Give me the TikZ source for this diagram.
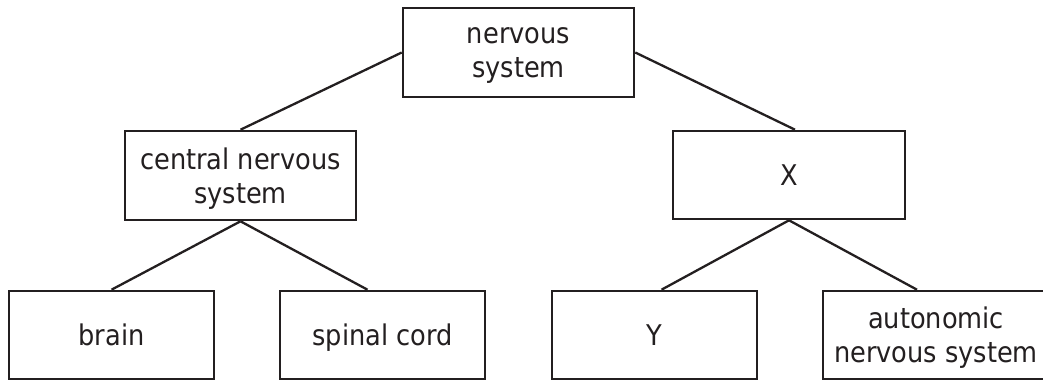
\documentclass[tikz,border=0pt]{standalone}
\usepackage{fontspec}
\setmainfont{DejaVu Sans Condensed}
\usepackage{tikz}

\definecolor{inkgray}{RGB}{35,31,32}

\begin{document}
\begin{tikzpicture}[x=1pt,y=-1pt]
	\tikzstyle{box}=[draw=inkgray,line width=2.6pt,inner sep=0pt,align=center,
		font=\fontsize{28.5}{34}\selectfont,text=inkgray,text depth=0pt,minimum height=88pt]
	\tikzstyle{link}=[draw=inkgray,line width=2.3pt]
	\useasboundingbox (0,0) rectangle (1043,381);
	\node[box,minimum width=231pt,minimum height=89pt](ns) at (518.5,52.5){nervous\\system};
	\node[box,minimum width=231pt,minimum height=89pt](cns) at (240.5,175.5){central nervous\\system};
	\node[box,minimum width=232pt](x) at (789,175){X};
	\node[box,minimum width=205pt](brain) at (111.5,335){brain};
	\node[box,minimum width=205pt](cord) at (382.5,335){spinal cord};
	\node[box,minimum width=205pt](y) at (654.5,335){Y};
	\node[box,minimum width=226pt](ans) at (936,335){autonomic\\nervous system};
	\path[link]
		(ns.west) edge (cns.north)
		(ns.east) edge ([xshift=6pt]x.north)
		(cns.south) edge (brain.north)
		(cns.south) edge ([xshift=-15pt]cord.north)
		(x.south) edge ([xshift=7pt]y.north)
		(x.south) edge ([xshift=-19pt]ans.north);
\end{tikzpicture}
\end{document}
